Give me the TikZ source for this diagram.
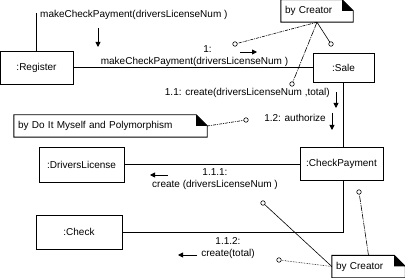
\documentclass[tikz,border=0pt]{standalone}
\usepackage{fontspec}
\setmainfont{Liberation Sans}
\usetikzlibrary{arrows.meta}

\begin{document}
\begin{tikzpicture}[x=1pt,y=-1pt,
    font=\fontsize{10pt}{12pt}\selectfont,
    obj/.style={draw,line width=0.9pt,inner sep=0pt},
    note/.style={inner xsep=4pt,inner ysep=0pt,align=left,minimum height=22pt},
    lbl/.style={align=center,inner sep=0pt},
    tip/.style={draw,circle,inner sep=0pt,minimum size=4.5pt,line width=0.6pt},
    msg/.style={-{Triangle[length=5pt,width=5pt]},line width=0.9pt},
    link/.style={line width=0.6pt}]
    \useasboundingbox (0,0) rectangle (405,278);

    % objects
    \node [obj, minimum width=73pt, minimum height=33pt, name=reg] at (36.5,67.5) {:Register};
    \node [obj, minimum width=61pt, minimum height=29pt, name=sale] at (343.5,67.5) {:Sale};
    \node [obj, minimum width=85pt, minimum height=35pt, name=dl] at (81.5,164.5) {:DriversLicense};
    \node [obj, minimum width=83pt, minimum height=33pt, name=cp] at (341.5,163.5) {:CheckPayment};
    \node [obj, minimum width=86pt, minimum height=34pt, name=chk] at (79,232) {:Check};

    % links between objects
    \coordinate (in) at (36.5,13);
    \draw [line width=0.9pt] (reg.north) -- (in);
    \draw [line width=0.9pt] (reg.east) -- (sale.west);
    \draw [line width=0.9pt] (sale.south) -- (sale.south |- cp.north);
    \draw [line width=0.9pt] (dl.east) -- (dl.east -| cp.west);
    \draw [line width=0.9pt] (cp.south -| sale.south) |- (chk.east);

    % messages
    \node [lbl, anchor=west, name=m0] at (40,15) {makeCheckPayment(driversLicenseNum )};
    \draw [msg] (98,28) -- (98,47);
    \node [lbl, name=m1] at (194.5,56) {\hspace*{26pt}1:\\makeCheckPayment(driversLicenseNum )};
    \draw [msg] (240,52) -- (257,52);
    \node [lbl, anchor=east, name=m11] at (330,93) {1.1: create(driversLicenseNum ,total)};
    \draw [msg] (336,92) -- (336,108);
    \node [lbl, anchor=east, name=m12] at (326,118) {1.2: authorize};
    \draw [msg] (332,113) -- (332,130);
    \node [lbl, name=m111] at (215,179) {1.1.1:\\create (driversLicenseNum )};
    \draw [msg] (168,175) -- (150,175);
    \node [lbl, name=m112] at (228,248) {1.1.2:\\create(total)};
    \draw [msg] (197,255) -- (178,255);

    % notes
    \node [note, text width=64pt, name=cr1] at (317,11) {by Creator};
    \draw [line width=0.9pt] (cr1.north west) -- ([xshift=-11pt]cr1.north east) -- ([yshift=-11pt]cr1.north east) -- (cr1.south east) -- (cr1.south west) -- cycle;
    \fill ([xshift=-11pt]cr1.north east) -- ([xshift=-11pt,yshift=-11pt]cr1.north east) -- ([yshift=-11pt]cr1.north east) -- cycle;

    \node [note, text width=185pt, name=dm] at (110.5,126) {by Do It Myself and Polymorphism};
    \draw [line width=0.9pt] (dm.north west) -- ([xshift=-11pt]dm.north east) -- ([yshift=-11pt]dm.north east) -- (dm.south east) -- (dm.south west) -- cycle;
    \fill ([xshift=-11pt]dm.north east) -- ([xshift=-11pt,yshift=-11pt]dm.north east) -- ([yshift=-11pt]dm.north east) -- cycle;

    \node [note, text width=65pt, name=cr2] at (368.5,266.5) {by Creator};
    \draw [line width=0.9pt] (cr2.north west) -- ([xshift=-11pt]cr2.north east) -- ([yshift=-11pt]cr2.north east) -- (cr2.south east) -- (cr2.south west) -- cycle;
    \fill ([xshift=-11pt]cr2.north east) -- ([xshift=-11pt,yshift=-11pt]cr2.north east) -- ([yshift=-11pt]cr2.north east) -- cycle;

    % note anchors
    \node [tip, name=t1] at (235,44) {};
    \node [tip, name=t2] at (331,44) {};
    \node [tip, name=t3] at (292,84) {};
    \node [tip, name=t4] at (246,120) {};
    \node [tip, name=t5] at (263,203) {};
    \node [tip, name=t6] at (359,192) {};
    \node [tip, name=t7] at (279,260) {};
    \draw [link, dash pattern=on 3pt off 1pt on 1pt off 1pt] (cr1.south) -- (t1);
    \draw [link] (cr1.south) -- (t2);
    \draw [link, dash pattern=on 6pt off 1pt on 1pt off 1pt] (cr1.south) -- (t3);
    \draw [link, dash pattern=on 3pt off 1pt on 1pt off 1pt] (dm.east) -- (t4);
    \draw [link] (cr2.west) -- (t5);
    \draw [link, dash pattern=on 6pt off 1pt on 1pt off 1pt] (cr2.north) -- (t6);
    \draw [link, densely dotted] (cr2.west) -- (t7);
\end{tikzpicture}
\end{document}
